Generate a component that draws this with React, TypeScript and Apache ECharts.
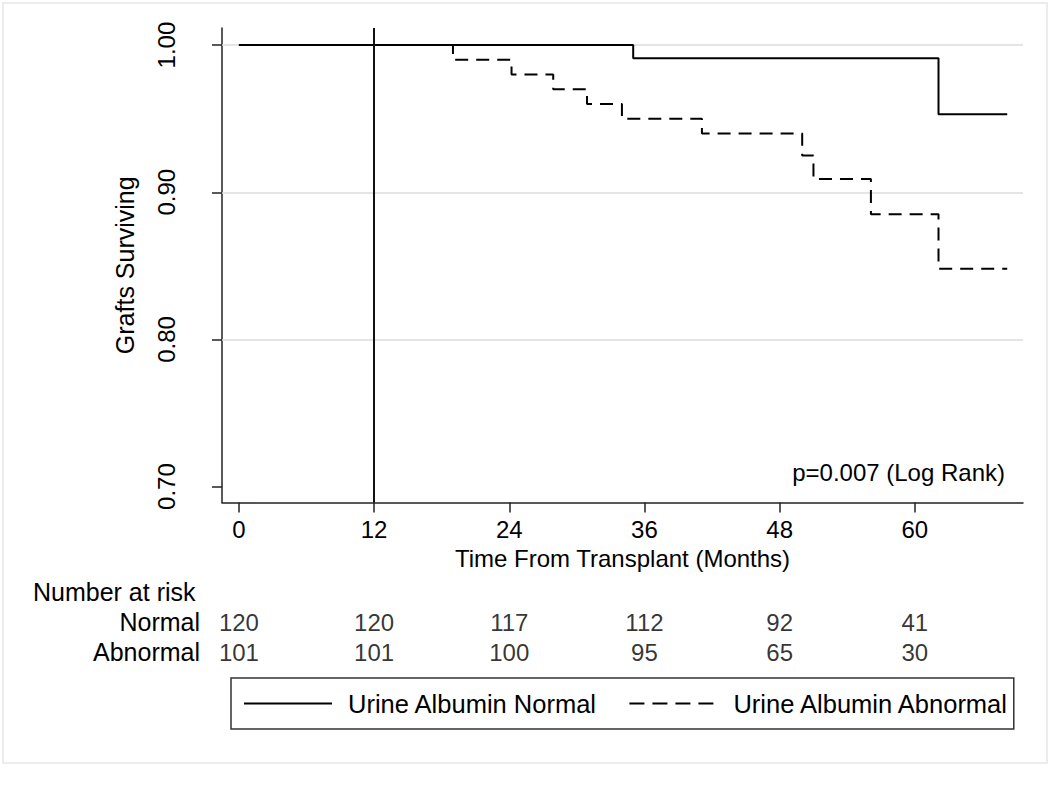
import React, { useEffect, useRef } from "react";
import * as echarts from "echarts";

const FONT = "'Liberation Sans', Arial, Helvetica, sans-serif";

// Kaplan-Meier step data (time in months, survival after the step)
const normalTimes = [0, 35.0, 62.1, 68.2];
const normalSurv = [1.0, 0.991, 0.953, 0.953];
const abnormalTimes = [0, 19.0, 24.2, 27.9, 30.9, 34.0, 41.1, 50.0, 51.0, 56.1, 62.1, 68.2];
const abnormalSurv = [1.0, 0.99, 0.98, 0.97, 0.96, 0.95, 0.94, 0.925, 0.909, 0.885, 0.848, 0.848];

const xTicks = [0, 12, 24, 36, 48, 60];
const yTicks = [0.7, 0.8, 0.9, 1.0];
const gridValues = [0.8, 0.9, 1.0];
const refLineMonth = 12;

const riskGroups = ["Normal", "Abnormal"];
const riskNormal = [120, 120, 117, 112, 92, 41];
const riskAbnormal = [101, 101, 100, 95, 65, 30];

const seriesNames = ["Urine Albumin Normal", "Urine Albumin Abnormal"];
const pText = "p=0.007 (Log Rank)";

const X_MIN = -1.5;
const X_MAX = 69.6;
const Y_MIN = 0.6892;
const Y_MAX = 1.0116;

export default function App() {
  const ref = useRef<HTMLDivElement>(null);
  useEffect(() => {
    if (!ref.current) return;
    const chart = echarts.init(ref.current, undefined, { renderer: "svg" });
    const axisCol = "#222";
    const riskData: any[] = [];
    xTicks.forEach((t, i) => {
      riskData.push([t, riskGroups[0], riskNormal[i]]);
      riskData.push([t, riskGroups[1], riskAbnormal[i]]);
    });
    const option: any = {
      animation: false,
      backgroundColor: "#fff",
      textStyle: { fontFamily: FONT },
      grid: [
        { left: 222, right: 27, top: 28, bottom: 285.5 },
        { left: 222, right: 27, top: 607, height: 60 },
      ],
      xAxis: [
        {
          type: "value",
          gridIndex: 0,
          min: X_MIN,
          max: X_MAX,
          name: "Time From Transplant (Months)",
          nameLocation: "middle",
          nameGap: 42,
          nameTextStyle: { fontSize: 24, color: "#000", fontFamily: FONT },
          axisLine: { show: true, onZero: false, lineStyle: { color: axisCol, width: 1.5 } },
          axisTick: { show: true, length: 10, customValues: xTicks, lineStyle: { color: axisCol, width: 1.5 } },
          axisLabel: { customValues: xTicks, fontSize: 24, color: "#000", margin: 15, fontFamily: FONT },
          splitLine: { show: false },
        },
        {
          type: "value",
          gridIndex: 1,
          min: X_MIN,
          max: X_MAX,
          show: false,
        },
      ],
      yAxis: [
        {
          type: "value",
          gridIndex: 0,
          min: Y_MIN,
          max: Y_MAX,
          name: "Grafts Surviving",
          nameLocation: "middle",
          nameRotate: 90,
          nameGap: 85,
          nameTextStyle: { fontSize: 25, color: "#000", fontFamily: FONT },
          axisLine: { show: true, onZero: false, lineStyle: { color: axisCol, width: 1.5 } },
          axisTick: { show: true, length: 10, customValues: yTicks, lineStyle: { color: axisCol, width: 1.5 } },
          axisLabel: {
            customValues: yTicks,
            rotate: 90,
            fontSize: 24,
            color: "#000",
            margin: 44,
            fontFamily: FONT,
            formatter: (v: number) => v.toFixed(2),
          },
          splitLine: { show: false },
        },
        {
          type: "category",
          gridIndex: 1,
          data: riskGroups,
          inverse: true,
          axisLine: { show: false },
          axisTick: { show: false },
          splitLine: { show: false },
          axisLabel: { interval: 0, hideOverlap: false, fontSize: 25, color: "#000", margin: 22, fontFamily: FONT },
        },
      ],
      legend: {
        left: 231,
        top: 678,
        orient: "horizontal",
        data: [
          { name: seriesNames[0], lineStyle: { type: "solid" } },
          { name: seriesNames[1], lineStyle: { type: [15, 8] } },
        ],
        borderColor: "#333",
        borderWidth: 1.5,
        padding: [12.5, 4, 12.5, 12],
        itemWidth: 88,
        itemHeight: 26,
        itemGap: 31,
        selectedMode: false,
        itemStyle: { opacity: 0 },
        lineStyle: { width: 2, color: "#000" },
        textStyle: { fontSize: 25.5, lineHeight: 26, color: "#000", fontFamily: FONT, padding: [0, 0, 0, 11] },
      },
      series: [
        {
          type: "line",
          name: "grid",
          xAxisIndex: 0,
          yAxisIndex: 0,
          data: [],
          silent: true,
          z: 1,
          markLine: {
            silent: true,
            z: 1,
            symbol: "none",
            label: { show: false },
            lineStyle: { color: "#dcdcdc", width: 1.5, type: "solid" },
            data: gridValues.map((v) => ({ yAxis: v })),
          },
        },
        {
          type: "line",
          name: seriesNames[0],
          xAxisIndex: 0,
          yAxisIndex: 0,
          step: "end",
          symbol: "none",
          z: 6,
          lineStyle: { color: "#000", width: 2, type: "solid" },
          itemStyle: { color: "#000" },
          data: normalTimes.map((t, i) => [t, normalSurv[i]]),
          markLine: {
            silent: true,
            z: 7,
            symbol: "none",
            label: { show: false },
            lineStyle: { color: "#111", width: 2, type: "solid" },
            data: [{ xAxis: refLineMonth }],
          },
        },
        {
          type: "line",
          name: seriesNames[1],
          xAxisIndex: 0,
          yAxisIndex: 0,
          step: "end",
          symbol: "none",
          z: 6,
          lineStyle: { color: "#000", width: 2, type: [13, 8] },
          itemStyle: { color: "#000" },
          data: abnormalTimes.map((t, i) => [t, abnormalSurv[i]]),
        },
        {
          type: "scatter",
          name: "risk",
          xAxisIndex: 1,
          yAxisIndex: 1,
          symbolSize: 0,
          silent: true,
          data: riskData,
          label: {
            show: true,
            position: "inside",
            fontSize: 24,
            color: "#000",
            fontFamily: FONT,
            formatter: (p: any) => String(p.value[2]),
          },
        },
      ],
      graphic: [
        {
          type: "rect",
          shape: { x: 3, y: 3, width: 1044, height: 760 },
          style: { fill: "none", stroke: "#ececec", lineWidth: 2 },
          silent: true,
        },
        {
          type: "text",
          x: 1005,
          y: 472,
          style: { text: pText, font: `24px ${FONT}`, fill: "#000", align: "right", verticalAlign: "middle" },
        },
        {
          type: "text",
          x: 33,
          y: 592,
          style: { text: "Number at risk", font: `25px ${FONT}`, fill: "#000", align: "left", verticalAlign: "middle" },
        },
      ],
    };
    chart.setOption(option);
    return () => chart.dispose();
  }, []);
  return (
    <div
      ref={ref}
      style={{ position: "fixed", left: 0, top: 0, width: 1050, height: 788 }}
    />
  );
}
